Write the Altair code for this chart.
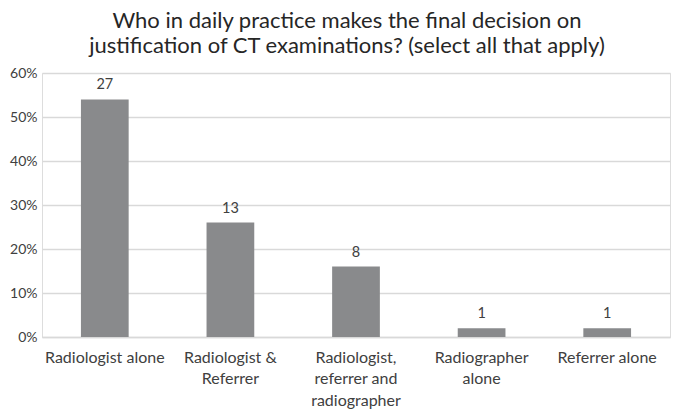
import altair as alt
import pandas as pd

categories = ["Radiologist alone", "Radiologist &|Referrer", "Radiologist,|referrer and|radiographer", "Radiographer|alone", "Referrer alone"]
counts = [27, 13, 8, 1, 1]
shares = [0.54, 0.26, 0.16, 0.02, 0.02]

df = pd.DataFrame({"cat": categories, "count": counts, "share": shares})

FONT = "Lato"
TXT = "#404040"

base = alt.Chart(df).encode(
    x=alt.X("cat:N", sort=categories, title=None,
            scale=alt.Scale(paddingInner=0.62, paddingOuter=0.31),
            axis=alt.Axis(labelAngle=0, labelExpr="split(datum.label, '|')",
                          labelFont=FONT, labelFontSize=16, labelColor=TXT,
                          labelPadding=12, labelLineHeight=21.5, ticks=False,
                          domainColor="#d9d9d9", domainWidth=1.5, labelLimit=200)),
)

bars = base.mark_bar(color="#898a8c").encode(
    y=alt.Y("share:Q", title=None,
            scale=alt.Scale(domain=[0, 0.6]),
            axis=alt.Axis(format="%", values=[0, 0.1, 0.2, 0.3, 0.4, 0.5, 0.6],
                          labelFont=FONT, labelFontSize=14, labelColor=TXT,
                          labelPadding=5, ticks=False, domain=False,
                          gridColor="#d9d9d9", gridWidth=1.5))
)

labels = base.mark_text(baseline="bottom", dy=-7, font=FONT, fontSize=14.5, color=TXT).encode(
    y="share:Q", text="count:Q"
)

chart = (bars + labels).properties(
    width=628, height=264,
    autosize=alt.AutoSizeParams(type="none"),
    padding={"left": 34, "top": 65, "right": 7, "bottom": 80},
    title=alt.TitleParams(
        ["Who in daily practice makes the final decision on",
         "justification of CT examinations? (select all that apply)"],
        font=FONT, fontSize=22, fontWeight="normal", color="#262626",
        anchor="middle", offset=8, lineHeight=25, dx=-9),
).configure_view(stroke=None).configure(background="white")

chart.save("out.html", embed_options={"renderer": "svg", "actions": False})
